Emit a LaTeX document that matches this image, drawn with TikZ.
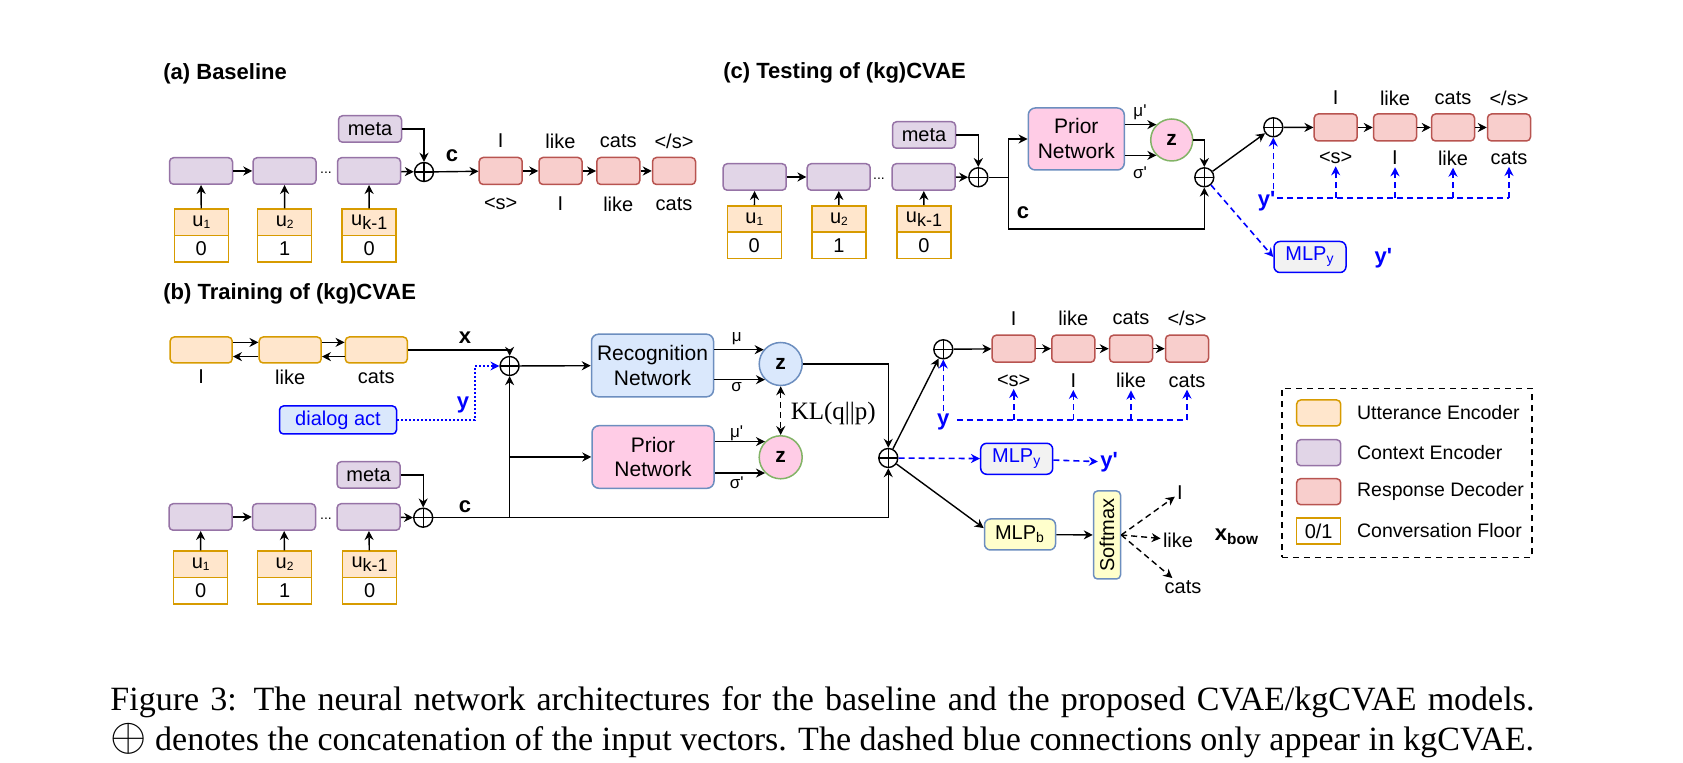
\documentclass[tikz,border=0pt]{standalone}
\usepackage{fontspec}
\setmainfont{Liberation Sans}
\newfontfamily\capfont{Liberation Serif}
\usetikzlibrary{arrows.meta}

\definecolor{uttfill}{HTML}{FFE6CC}
\definecolor{uttdraw}{HTML}{D79B00}
\definecolor{ctxfill}{HTML}{E1D5E7}
\definecolor{ctxdraw}{HTML}{9673A6}
\definecolor{decfill}{HTML}{F8CECC}
\definecolor{decdraw}{HTML}{B85450}
\definecolor{recfill}{HTML}{DAE8FC}
\definecolor{recdraw}{HTML}{6C8EBF}
\definecolor{prifill}{HTML}{FFCCE6}
\definecolor{zgreen}{HTML}{82B366}
\definecolor{mlpfill}{HTML}{F2F2F2}
\definecolor{bowfill}{HTML}{FFFFCC}
\definecolor{kgblue}{HTML}{0000FF}

\newcommand{\qs}{\textquotesingle}
\newcommand{\usub}[1]{u\raisebox{-1pt}{\fontsize{6}{7}\selectfont #1}}
\newcommand{\ukm}{u\raisebox{-2pt}{\fontsize{9}{10}\selectfont k-1}}

\tikzset{
  box/.style={draw, rounded corners=2pt, line width=0.75pt, inner sep=0pt},
  utt/.style={box, draw=uttdraw, fill=uttfill, minimum width=31pt, minimum height=13pt},
  ctx/.style={box, draw=ctxdraw, fill=ctxfill, minimum width=31.5pt, minimum height=13.25pt},
  dec/.style={box, draw=decdraw, fill=decfill, minimum width=21.5pt, minimum height=13.5pt},
  cell/.style={draw=uttdraw, fill=white, line width=0.75pt, inner sep=0pt, minimum width=27pt, minimum height=13.25pt},
  net/.style={box, rounded corners=3.5pt, draw=recdraw, align=center, minimum width=61pt, minimum height=31.3pt, font=\fontsize{10.5}{12.5}\selectfont},
  lat/.style={circle, line width=0.75pt, inner sep=0pt, minimum size=21.5pt, font=\bfseries\fontsize{10.5}{12}\selectfont},
  cat/.style={circle, draw, line width=0.7pt, inner sep=0pt, minimum size=9.5pt,
    path picture={\draw[line width=0.7pt] (path picture bounding box.north) -- (path picture bounding box.south)
      (path picture bounding box.west) -- (path picture bounding box.east);}},
  heading/.style={anchor=west, inner sep=0pt, font=\bfseries\fontsize{11}{13}\selectfont},
  word/.style={inner sep=1pt},
  bold/.style={inner sep=1pt, font=\bfseries\fontsize{11}{13}\selectfont},
  small/.style={inner sep=1pt, font=\fontsize{8.5}{10}\selectfont},
  dotsym/.style={inner sep=0pt, font=\fontsize{7}{8}\selectfont},
  kglab/.style={inner sep=1pt, text=kgblue, font=\bfseries\fontsize{11}{13}\selectfont},
  mlp/.style={box, rounded corners=3pt, minimum width=36pt, minimum height=15.5pt},
  legtxt/.style={anchor=west, inner sep=0pt, font=\fontsize{9.75}{11}\selectfont},
  captxt/.style={anchor=base west, inner sep=0pt, font=\capfont\fontsize{17}{20}\selectfont},
  arr/.style={-{Stealth[length=4.5pt,width=4.5pt]}, line width=0.7pt},
  kg/.style={kgblue, line width=0.8pt, dash pattern=on 3pt off 2pt},
  kgarr/.style={kg, -{Stealth[length=4.5pt,width=4.5pt]}},
  dasharr/.style={line width=0.7pt, dash pattern=on 3pt off 2pt, -{Stealth[length=4.5pt,width=4.5pt]}},
}

\begin{document}
\begin{tikzpicture}[x=0.5pt, y=-0.5pt, font=\fontsize{10}{12}\selectfont]
\useasboundingbox (0,0) rectangle (1683,763);

% (a) baseline
\node[heading] (tA) at (163,74) {(a) Baseline};
\node[ctx] (ctxA1) at (201,171) {};
\node[ctx] (ctxA2) at (284.5,171) {};
\node[ctx] (ctxA3) at (369,171) {};
\node[dotsym] (dotsA) at (326,173) {...};
\node[ctx] (metaA) at (370,129) {meta};
\node[cat] (catA) at (424,172) {};
\node[bold] (cA) at (452,156) {c};
\node[dec] (decA1) at (500.7,171) {};
\node[dec] (decA2) at (560.5,171) {};
\node[dec] (decA3) at (618.3,171) {};
\node[dec] (decA4) at (674,171) {};
\node[word] (outA1) at (500.7,141) {I};
\node[word] (outA2) at (560.5,141) {like};
\node[word] (outA3) at (618.3,141) {cats};
\node[word] (outA4) at (674,141) {</s>};
\node[word] (inA1) at (500.7,204) {<s>};
\node[word] (inA2) at (560.5,204) {I};
\node[word] (inA3) at (618.3,204) {like};
\node[word] (inA4) at (674,204) {cats};
\node[cell, fill=uttfill] (uA1) at (201.3,222.5) {\usub{1}};
\node[cell] (fA1) at (201.3,249) {0};
\node[cell, fill=uttfill] (uA2) at (284.7,222.5) {\usub{2}};
\node[cell] (fA2) at (284.7,249) {1};
\node[cell, fill=uttfill] (uA3) at (369.2,222.5) {\ukm};
\node[cell] (fA3) at (369.2,249) {0};

\draw[arr] (ctxA1) -- (ctxA2);
\draw[arr] (ctxA3) -- (catA);
\draw[arr] (metaA) -| (catA);
\draw[arr] (catA) -- (decA1);
\draw[arr] (decA1) -- (decA2);
\draw[arr] (decA2) -- (decA3);
\draw[arr] (decA3) -- (decA4);
\draw[arr] (uA1) -- (ctxA1);
\draw[arr] (uA2) -- (ctxA2);
\draw[arr] (uA3) -- (ctxA3);

% (c) testing
\node[heading] (tC) at (723,73) {(c) Testing of (kg)CVAE};
\node[ctx] (ctxC1) at (754.7,177) {};
\node[ctx] (ctxC2) at (838.7,177) {};
\node[ctx] (ctxC3) at (923.7,177) {};
\node[dotsym] (dotsC) at (879,179) {...};
\node[ctx] (metaC) at (924,135) {meta};
\node[cat] (catC1) at (978.3,177.3) {};
\coordinate (brC) at (1008.3,177.3);
\coordinate (lowC) at (1204.3,229);
\node[bold] (cC) at (1023,213) {c};
\node[net, fill=prifill, minimum width=48pt, minimum height=31pt] (priC) at (1076.3,139) {Prior\\Network};
\node[small] (muC) at (1140,112) {μ\qs};
\node[small] (sgC) at (1140,173) {σ\qs};
\node[lat, draw=zgreen, fill=prifill, minimum size=21pt] (zC) at (1171.7,140) {z};
\node[cat] (catC2) at (1204.3,177.3) {};
\node[cat] (catC3) at (1273.3,127.3) {};
\node[dec] (decC1) at (1335.7,127.5) {};
\node[dec] (decC2) at (1395,127.5) {};
\node[dec] (decC3) at (1453,127.5) {};
\node[dec] (decC4) at (1509,127.5) {};
\node[word] (outC1) at (1335.7,98) {I};
\node[word] (outC2) at (1395,98) {like};
\node[word] (outC3) at (1453,98) {cats};
\node[word] (outC4) at (1509,98) {</s>};
\node[word] (inC1) at (1335.7,158) {<s>};
\node[word] (inC2) at (1395,158) {I};
\node[word] (inC3) at (1453,158) {like};
\node[word] (inC4) at (1509,158) {cats};
\node[kglab] (yC) at (1266.7,201.7) {y\qs};
\coordinate (ylC) at (1277,198.3);
\node[mlp, draw=kgblue, fill=mlpfill, text=kgblue] (mlpyC) at (1310,257) {MLP\textsubscript{y}};
\node[kglab] (ypC) at (1383.3,258) {y\qs};
\node[cell, fill=uttfill] (uC1) at (754.3,219.2) {\usub{1}};
\node[cell] (fC1) at (754.3,245.5) {0};
\node[cell, fill=uttfill] (uC2) at (839,219.2) {\usub{2}};
\node[cell] (fC2) at (839,245.5) {1};
\node[cell, fill=uttfill] (uC3) at (924,219.2) {\ukm};
\node[cell] (fC3) at (924,245.5) {0};

\draw[arr] (ctxC1) -- (ctxC2);
\draw[arr] (ctxC3) -- (catC1);
\draw[arr] (metaC) -| (catC1);
\draw[arr] (uC1) -- (ctxC1);
\draw[arr] (uC2) -- (ctxC2);
\draw[arr] (uC3) -- (ctxC3);
\draw[line width=0.7pt] (catC1) -- (brC);
\draw[arr] (brC) |- (priC);
\draw[arr] (brC) |- (lowC) -- (catC2);
\draw[arr] (priC.east |- zC.135) -- (zC.135);
\draw[arr] (priC.east |- zC.225) -- (zC.225);
\draw[arr] (zC) -| (catC2);
\draw[arr] (catC2) -- (catC3);
\draw[arr] (catC3) -- (decC1);
\draw[arr] (decC1) -- (decC2);
\draw[arr] (decC2) -- (decC3);
\draw[arr] (decC3) -- (decC4);
\draw[kg] (ylC) -- (ylC -| inC4);
\draw[kgarr] (ylC -| inC1) -- (inC1);
\draw[kgarr] (ylC -| inC2) -- (inC2);
\draw[kgarr] (ylC -| inC3) -- (inC3);
\draw[kgarr] (ylC -| inC4) -- (inC4);
\draw[kgarr] (catC3 |- yC.north) -- (catC3);
\draw[kgarr] (catC2) -- (mlpyC.west);

% (b) training
\node[heading] (tB) at (163,294) {(b) Training of (kg)CVAE};
\node[utt] (uttB1) at (201.2,350) {};
\node[utt] (uttB2) at (290.2,350) {};
\node[utt] (uttB3) at (376.3,350) {};
\node[word] (wB1) at (201.2,377) {I};
\node[word] (wB2) at (290.2,377) {like};
\node[word] (wB3) at (376.3,377) {cats};
\node[bold] (xB) at (465,338) {x};
\node[cat] (catB1) at (509.6,366) {};
\node[net, fill=recfill] (recB) at (652.5,365.5) {Recognition\\Network};
\node[box, draw=kgblue, fill=recfill, text=kgblue, minimum width=58.5pt, minimum height=14pt] (dact) at (338,420) {dialog act};
\coordinate (yturn) at (475,366);
\node[kglab] (yB1) at (463,405) {y};

\node[ctx] (ctxB1) at (200.6,517) {};
\node[ctx] (ctxB2) at (284,517) {};
\node[ctx] (ctxB3) at (368.6,517) {};
\node[dotsym] (dotsB) at (326,519) {...};
\node[ctx] (metaB) at (368.6,475) {meta};
\node[cat] (catB0) at (423.2,517.7) {};
\node[bold] (cB) at (465,506.7) {c};
\coordinate (brB) at (509.6,517.7);
\coordinate (lowB) at (888.3,517.7);
\node[cell, fill=uttfill] (uB1) at (200.7,564.3) {\usub{1}};
\node[cell] (fB1) at (200.7,590.8) {0};
\node[cell, fill=uttfill] (uB2) at (284.6,564.3) {\usub{2}};
\node[cell] (fB2) at (284.6,590.8) {1};
\node[cell, fill=uttfill] (uB3) at (369.6,564.3) {\ukm};
\node[cell] (fB3) at (369.6,590.8) {0};
\node[net, fill=prifill] (priB) at (653,457) {Prior\\Network};

\node[lat, draw=recdraw, fill=recfill] (zB1) at (780.7,364) {z};
\node[lat, draw=zgreen, fill=prifill] (zB2) at (780.7,457.3) {z};
\node[small] (muB) at (736.7,338.3) {μ};
\node[small] (sgB) at (736.7,386.7) {σ};
\node[small] (muB2) at (736.7,433.3) {μ\qs};
\node[small] (sgB2) at (736.7,482.7) {σ\qs};
\node[inner sep=1pt, font=\capfont\fontsize{12.5}{14}\selectfont] (kl) at (833.3,413.3) {KL(q||p)};
\node[cat] (catB2) at (888.3,458) {};
\node[cat] (catB3) at (943.3,349.3) {};
\node[dec] (decB1) at (1013.7,348.7) {};
\node[dec] (decB2) at (1073.3,348.7) {};
\node[dec] (decB3) at (1131,348.7) {};
\node[dec] (decB4) at (1187,348.7) {};
\node[word] (outB1) at (1013.7,318.3) {I};
\node[word] (outB2) at (1073.3,318.3) {like};
\node[word] (outB3) at (1131,318.3) {cats};
\node[word] (outB4) at (1187,318.3) {</s>};
\node[word] (inB1) at (1013.7,380.7) {<s>};
\node[word] (inB2) at (1073.3,380.7) {I};
\node[word] (inB3) at (1131,380.7) {like};
\node[word] (inB4) at (1187,380.7) {cats};
\node[kglab] (yB2) at (943.3,421.7) {y};
\coordinate (ylB) at (957,420);
\node[mlp, draw=kgblue, fill=mlpfill, text=kgblue] (mlpyB) at (1016.7,458.8) {MLP\textsubscript{y}};
\node[kglab] (ypB) at (1109,462) {y\qs};
\node[mlp, draw=recdraw, fill=bowfill, minimum width=35.5pt] (mlpb) at (1020,534.5) {MLP\textsubscript{b}};
\node[box, draw=recdraw, fill=bowfill, minimum width=13.5pt, minimum height=44pt] (smax) at (1107,535) {\rotatebox{90}{Softmax}};
\node[word] (bw1) at (1180,493) {I};
\node[word] (bw2) at (1178,540) {like};
\node[word] (bw3) at (1183,587) {cats};
\node[bold] (xbow) at (1237,537) {x\textsubscript{bow}};

\draw[arr] ([yshift=3.8pt]uttB1.east) -- ([yshift=3.8pt]uttB2.west);
\draw[arr] ([yshift=-3.3pt]uttB2.west) -- ([yshift=-3.3pt]uttB1.east);
\draw[arr] ([yshift=3.8pt]uttB2.east) -- ([yshift=3.8pt]uttB3.west);
\draw[arr] ([yshift=-3.3pt]uttB3.west) -- ([yshift=-3.3pt]uttB2.east);
\draw[arr] (uttB3) -| (catB1);
\draw[arr] (catB1) -- (recB);
\draw[kgblue, line width=0.6pt, dash pattern=on 1pt off 1pt, -{Stealth[length=4.5pt,width=4.5pt]}] (dact) -| (yturn) -- (catB1);
\draw[arr] (ctxB1) -- (ctxB2);
\draw[arr] (ctxB3) -- (catB0);
\draw[arr] (metaB) -| (catB0);
\draw[arr] (uB1) -- (ctxB1);
\draw[arr] (uB2) -- (ctxB2);
\draw[arr] (uB3) -- (ctxB3);
\draw[line width=0.7pt] (catB0) -- (lowB);
\draw[arr] (lowB) -- (catB2);
\draw[arr] (brB) -- (catB1);
\draw[arr] (brB |- priB) -- (priB);
\draw[arr] (recB.east |- zB1.140) -- (zB1.140);
\draw[arr] (recB.east |- zB1.225) -- (zB1.225);
\draw[arr] (priB.east |- zB2.135) -- (zB2.135);
\draw[arr] (priB.east |- zB2.225) -- (zB2.225);
\draw[line width=0.7pt, dash pattern=on 3pt off 2pt, {Stealth[length=4.5pt,width=4.5pt]}-{Stealth[length=4.5pt,width=4.5pt]}] (zB1) -- (zB2);
\draw[arr] (zB1) -| (catB2);
\draw[arr] (catB2) -- (catB3);
\draw[arr] (catB3) -- (decB1);
\draw[arr] (decB1) -- (decB2);
\draw[arr] (decB2) -- (decB3);
\draw[arr] (decB3) -- (decB4);
\draw[kg] (ylB) -- (ylB -| inB4);
\draw[kgarr] (ylB -| inB1) -- (inB1);
\draw[kgarr] (ylB -| inB2) -- (inB2);
\draw[kgarr] (ylB -| inB3) -- (inB3);
\draw[kgarr] (ylB -| inB4) -- (inB4);
\draw[kgarr] (catB3 |- yB2.north) -- (catB3);
\draw[kgarr] (catB2) -- (mlpyB);
\draw[kgarr] (mlpyB) -- (ypB);
\draw[arr] (catB2) -- (mlpb.170);
\draw[arr] (mlpb) -- (smax);
\draw[dasharr] (smax.east) -- (bw1);
\draw[dasharr] (smax.east) -- (bw2);
\draw[dasharr] (smax.east) -- (bw3);

% legend
\node[draw, line width=0.7pt, dash pattern=on 3pt off 2.5pt, minimum width=125pt, minimum height=84.5pt, inner sep=0pt] (leg) at (1406.9,472.8) {};
\node[utt, minimum width=22pt, minimum height=13pt] (lgU) at (1318.7,413) {};
\node[ctx, minimum width=22pt, minimum height=13pt] (lgC) at (1318.7,452.7) {};
\node[dec, minimum width=22pt, minimum height=13pt] (lgR) at (1318.7,491.7) {};
\node[cell, minimum width=22pt, minimum height=13pt] (lgF) at (1318.7,531) {0/1};
\node[legtxt] (lgUt) at (1356.7,413) {Utterance Encoder};
\node[legtxt] (lgCt) at (1356.7,452.7) {Context Encoder};
\node[legtxt] (lgRt) at (1356.7,491.7) {Response Decoder};
\node[legtxt] (lgFt) at (1356.7,531) {Conversation Floor};

% caption
\node[captxt] (cap1) at (110,711) {\makebox[712pt][s]{Figure 3: The neural network architectures for the baseline and the proposed CVAE/kgCVAE models.}};
\node[captxt] (cap2) at (110,751) {\scalebox{1.35}{$\oplus$} denotes the concatenation of the input vectors. The dashed blue connections only appear in kgCVAE.};
\end{tikzpicture}
\end{document}
